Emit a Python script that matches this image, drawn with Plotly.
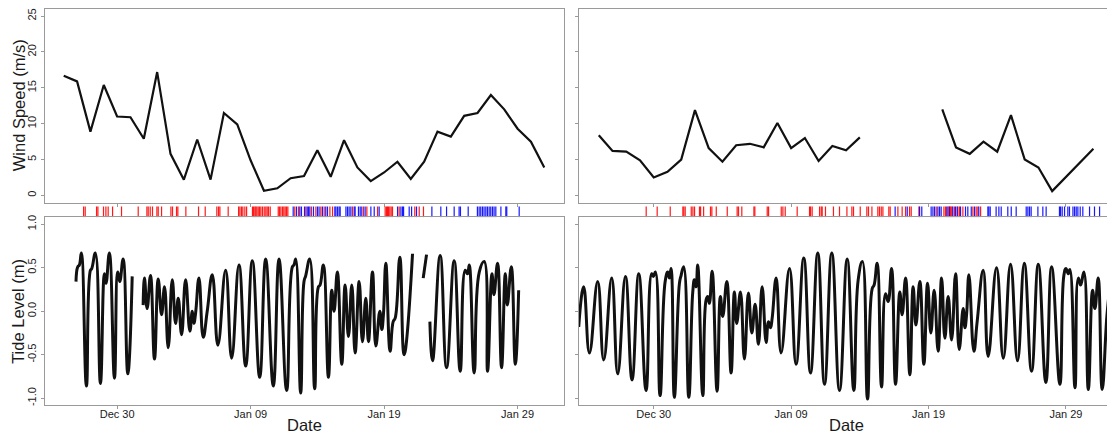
import pandas as pd
import plotly.graph_objects as go

# ---------------- data ----------------
BASE = pd.Timestamp("2012-12-30")          # day 0 (tick "Dec 30")
wind_dates = pd.date_range("2012-12-26", "2013-01-31", freq="D")

wind_left = [16.7, 15.9, 8.9, 15.4, 11.0, 10.9, 7.9, 17.2, 5.8, 2.2, 7.8, 2.2, 11.5,
             9.9, 4.9, 0.65, 1.0, 2.4, 2.7, 6.3, 2.6, 7.7, 3.9, 2.0, 3.2, 4.7, 2.3,
             4.7, 8.9, 8.2, 11.1, 11.5, 14.0, 12.0, 9.3, 7.5, 3.9]
wind_right = [8.4, 6.2, 6.1, 4.9, 2.5, 3.3, 5.0, 11.9, 6.6, 4.7, 7.0, 7.2, 6.7, 10.1,
              6.6, 8.0, 4.8, 6.9, 6.3, 8.1, None, None, None, None, None,
              12.0, 6.7, 5.8, 7.5, 6.1, 11.2, 5.0, 3.9, 0.6, 2.6, 4.6, 6.5]

# tide level turning points (days after Dec 30, metres); None = gap in record
tide_left_days = [-3.08, -2.95, -2.83, -2.68, -2.30, -2.00, -1.90, -1.63, -1.25, -0.95,
                  -0.83, -0.58, -0.20, 0.05, 0.20, 0.45, 0.80, 1.13, None,
                  1.95, 2.05, 2.25, 2.50, 2.80, 3.08, 3.33, 3.55, 3.83, 4.13, 4.38, 4.58,
                  4.83, 5.13, 5.45, 5.63, 5.75, 5.88, 6.13, 6.45, 6.75, 7.13, 7.55, 8.13,
                  8.58, 9.13, 9.63, 10.13, 10.68, 11.13, 11.70, 12.13, 12.70, 13.13,
                  13.25, 13.38, 13.75, 14.0, 14.13, 14.43, 14.80, 15.08, 15.20, 15.45,
                  15.83, 16.08, 16.25, 16.50, 16.83, 17.08, 17.33, 17.58, 17.83, 18.13,
                  18.38, 18.63, 18.83, 19.13, 19.38, 19.68, 19.83, 19.95, 20.13, 20.45,
                  20.68, 20.83, 21.18, 21.50, 22.13, None,
                  22.93, 23.18, None,
                  23.43, 23.63, 24.20, 24.68, 25.25, 25.70, 26.08, 26.25, 26.38, 26.75,
                  27.13, 27.50, 27.75, 28.08, 28.23, 28.50, 28.80, 29.08, 29.23, 29.53,
                  29.83, 30.08]
tide_left_level = [0.34, 0.51, 0.53, 0.67, -0.86, 0.47, 0.49, 0.67, -0.83, 0.43,
                   0.32, 0.67, -0.77, 0.45, 0.34, 0.60, -0.72, 0.40, None,
                   0.07, 0.38, 0.03, 0.41, -0.55, 0.37, -0.04, 0.28, -0.42, 0.36, -0.14, 0.15,
                   -0.27, 0.36, -0.23, 0.00, -0.14, -0.02, 0.38, -0.30, 0.00, 0.42, -0.39, 0.47,
                   -0.54, 0.53, -0.63, 0.58, -0.76, 0.60, -0.86, 0.60, -0.91, 0.51,
                   0.53, 0.60, -0.94, 0.34, 0.41, 0.60, -0.89, 0.28, 0.30, 0.53,
                   -0.76, 0.24, 0.00, 0.45, -0.61, 0.30, -0.29, 0.30, -0.48, 0.34,
                   -0.35, 0.15, -0.35, 0.45, -0.40, 0.00, -0.21, -0.04, 0.55, -0.46,
                   -0.12, -0.08, 0.62, -0.50, 0.66, None,
                   0.38, 0.65, None,
                   -0.12, -0.57, 0.64, -0.65, 0.58, -0.69, 0.47, 0.43, 0.53, -0.71,
                   0.45, 0.57, -0.69, 0.43, 0.19, 0.55, -0.65, 0.43, 0.07, 0.51,
                   -0.61, 0.24]

tide_right_days = [-5.46, -5.10, -4.68, -4.08, -3.64, -3.06, -2.62, -2.06, -1.58, -1.09,
                   -0.56, -0.15, -0.03, 0.12, 0.46, 0.83, 1.02, 1.14, 1.26, 1.50, 1.87,
                   1.99, 2.18, 2.55, 2.84, 2.96, 3.08, 3.20, 3.57, 3.81, 3.93, 4.05, 4.25,
                   4.61, 4.85, 5.02, 5.32, 5.63, 5.87, 6.04, 6.31, 6.60, 6.89, 7.14, 7.38,
                   7.62, 7.89, 8.18, 8.35, 8.50, 8.62, 8.91, 9.27, 9.88, 10.36, 10.92,
                   11.41, 11.94, 12.43, 12.96, 13.52, 14.08, 14.56, 14.88, 15.19, 15.56,
                   15.90, 16.04, 16.26, 16.58, 16.87, 17.06, 17.31, 17.60, 17.91, 18.08,
                   18.33, 18.64, 18.88, 19.08, 19.37, 19.66, 19.93, 20.17, 20.41, 20.70,
                   20.95, 21.19, 21.43, 21.68, 21.97, 22.23, 22.52, 22.65, 22.77, 22.94,
                   23.30, 23.54, 23.98, 24.34, 24.95, 25.44, 25.97, 26.48, 26.97, 27.50,
                   27.99, 28.54, 28.96, 29.56, 29.85, 30.00, 30.17, 30.29, 30.66, 30.90,
                   31.07, 31.31, 31.63, 31.94, 32.11, 32.35, 32.64, 32.99, 33.25]
tide_right_level = [-0.18, 0.28, -0.48, 0.34, -0.56, 0.38, -0.72, 0.40, -0.79, 0.43,
                    -0.91, 0.43, 0.40, 0.45, -0.97, 0.34, 0.45, 0.38, 0.49, -0.99, 0.32,
                    0.41, 0.51, -0.99, 0.22, 0.36, 0.28, 0.53, -0.97, 0.13, 0.17, 0.09, 0.46,
                    -0.92, 0.17, -0.06, 0.34, -0.71, 0.22, -0.14, 0.22, -0.55, 0.21, -0.25, 0.08,
                    -0.38, 0.28, -0.36, -0.12, -0.19, -0.08, 0.38, -0.48, 0.49, -0.61, 0.61,
                    -0.71, 0.67, -0.84, 0.67, -0.91, 0.60, -0.91, 0.36, 0.57, -1.01,
                    0.26, 0.30, 0.55, -0.87, 0.20, 0.11, 0.49, -0.84, 0.22, -0.04,
                    0.38, -0.73, 0.28, -0.16, 0.34, -0.61, 0.32, -0.25, 0.24, -0.46,
                    0.38, -0.31, 0.17, -0.33, 0.43, -0.44, 0.03, -0.19, -0.04, 0.42,
                    -0.46, -0.12, 0.47, -0.52, 0.50, -0.54, 0.54, -0.57, 0.55, -0.69,
                    0.54, -0.82, 0.51, -0.84, 0.41, 0.49, 0.43, 0.48, -0.88, 0.38,
                    0.30, 0.45, -0.90, 0.24, 0.03, 0.38, -0.90, -0.04, 0.35]

# rug event times (days after Dec 30)
rug_left_red = [-2.51, -2.39, -1.54, -1.44, -1.02, -0.84, -0.67, -0.34, 0.33, 1.58, 2.23,
                2.33, 2.48, 2.65, 2.98, 3.08, 3.33, 4.03, 4.15, 4.45, 4.55, 5.15, 6.10,
                6.60, 7.47, 7.60, 7.70, 8.32, 9.10, 9.20, 9.32, 9.42, 9.57, 9.70, 10.14,
                10.22, 10.32, 10.39, 10.47, 10.57, 10.67, 10.77, 10.89, 11.02, 11.14,
                11.24, 11.34, 11.47, 12.07, 12.17, 12.27, 12.39, 12.49, 12.59, 12.69,
                12.79, 13.31, 13.59, 14.14, 14.56, 14.89, 15.26, 15.51, 15.94, 16.14,
                17.63, 18.46, 18.71, 19.51, 20.08, 20.18, 20.26, 20.33, 20.43, 20.53,
                20.63, 21.13, 22.30, 22.63, 22.95]
rug_left_blue = [13.19, 13.44, 13.69, 13.81, 14.04, 14.24, 14.34, 14.44, 14.71, 15.01,
                 15.13, 15.38, 15.63, 15.76, 16.31, 16.39, 16.51, 16.63, 16.71, 17.14,
                 17.26, 17.38, 17.51, 17.76, 17.83, 18.08, 18.21, 18.33, 18.58, 19.01,
                 19.26, 19.63, 21.01, 21.26, 21.38, 21.46, 21.88, 22.06, 22.43, 23.58,
                 24.25, 24.68, 25.25, 25.62, 25.72, 26.30, 26.99, 27.12, 27.24, 27.37,
                 27.49, 27.62, 27.74, 27.87, 27.99, 28.12, 28.24, 28.37, 28.75, 29.12,
                 29.19, 30.12]
rug_right_red = [-0.55, 0.25, 1.20, 2.12, 2.19, 2.29, 2.73, 2.85, 2.97, 3.33, 3.41, 3.63,
                 4.13, 4.23, 4.55, 5.35, 6.07, 6.17, 6.41, 7.29, 7.36, 8.26, 8.36, 9.28,
                 9.40, 9.57, 10.44, 11.34, 11.41, 11.53, 12.07, 12.19, 12.26, 12.50, 13.08,
                 13.52, 14.06, 14.42, 14.54, 15.03, 15.51, 15.63, 15.88, 16.31, 16.43,
                 16.56, 16.68, 17.11, 17.21, 17.77, 18.08, 18.33, 18.62, 18.74, 19.30,
                 20.56, 21.12, 21.24, 21.41, 21.48, 21.58, 21.65, 21.72, 21.89, 22.14,
                 22.26, 22.50, 23.23, 23.47, 23.59, 23.79]
rug_right_blue = [17.57, 18.45, 19.35, 19.51, 20.19, 20.32, 20.44, 20.68, 20.80, 20.92,
                  21.33, 21.53, 21.77, 21.97, 22.09, 22.33, 22.69, 22.86, 23.11, 23.35,
                  23.66, 24.32, 24.39, 24.49, 24.92, 25.12, 25.29, 25.77, 26.02, 26.38,
                  27.11, 27.23, 27.35, 27.47, 27.96, 28.32, 28.56, 29.53, 29.61, 29.73,
                  29.90, 30.14, 30.26, 30.51, 30.63, 30.75, 30.87, 31.04, 31.23, 31.72,
                  32.08, 32.45]

tick_days = [0, 10, 20, 30]
tick_labels = ["Dec 30", "Jan 09", "Jan 19", "Jan 29"]
wind_ticks = [0, 5, 10, 15, 20, 25]
tide_ticks = [-1.0, -0.5, 0.0, 0.5, 1.0]
tide_tick_labels = ["-1.0", "-0.5", "0.0", "0.5", "1.0"]


def to_dates(days):
    return [None if d is None else (BASE + pd.Timedelta(days=d)).isoformat() for d in days]


W, H = 1107, 434
FONT = "Liberation Sans, Arial, sans-serif"
BOXC = "#9a9a9a"
TXT = "#1a1a1a"

def px_x(a, b):
    return [a / W, b / W]

def px_y(top, bottom):
    return [(H - bottom) / H, (H - top) / H]

fig = go.Figure()

# wind
fig.add_trace(go.Scatter(x=list(wind_dates), y=wind_left, mode="lines",
                         line=dict(color="#111111", width=2.2), xaxis="x", yaxis="y",
                         connectgaps=False, showlegend=False))
fig.add_trace(go.Scatter(x=list(wind_dates), y=wind_right, mode="lines",
                         line=dict(color="#111111", width=2.2), xaxis="x4", yaxis="y4",
                         connectgaps=False, showlegend=False))
# tide
fig.add_trace(go.Scatter(x=to_dates(tide_left_days), y=tide_left_level, mode="lines",
                         line=dict(color="#111111", width=3.0, shape="spline", smoothing=1.3),
                         xaxis="x3", yaxis="y3", connectgaps=False, showlegend=False))
fig.add_trace(go.Scatter(x=to_dates(tide_right_days), y=tide_right_level, mode="lines",
                         line=dict(color="#111111", width=3.0, shape="spline", smoothing=1.3),
                         xaxis="x6", yaxis="y6", connectgaps=False, showlegend=False))

# rugs
def rug(days, color, xa, ya):
    return go.Scatter(x=to_dates(days), y=[0.5] * len(days), mode="markers",
                      marker=dict(symbol="line-ns", size=10,
                                  line=dict(color=color, width=1.2)),
                      xaxis=xa, yaxis=ya, showlegend=False, hoverinfo="x")

fig.add_trace(rug(rug_left_red, "rgba(255,0,0,0.9)", "x2", "y2"))
fig.add_trace(rug(rug_left_blue, "rgba(0,0,255,0.9)", "x2", "y2"))
fig.add_trace(rug(rug_right_red, "rgba(255,0,0,0.9)", "x5", "y5"))
fig.add_trace(rug(rug_right_blue, "rgba(0,0,255,0.9)", "x5", "y5"))

left_range = to_dates([-5.44, 33.44])
right_range = to_dates([-5.44, 32.99])
tickvals = to_dates(tick_days)

xcommon = dict(type="date", showgrid=False, zeroline=False, showline=True,
               linecolor=BOXC, linewidth=1, ticks="outside", ticklen=3,
               tickcolor=BOXC, tickvals=tickvals, ticktext=tick_labels,
               ticklabelstandoff=-4,
               tickfont=dict(family=FONT, size=11, color=TXT))
ycommon = dict(showgrid=False, zeroline=False, showline=True, linecolor=BOXC,
               linewidth=1, ticks="outside", ticklen=3, tickcolor=BOXC,
               tickangle=-90, tickfont=dict(family=FONT, size=11, color=TXT))

LX = px_x(44.5, 563.5)
RX = px_x(579, 1107)
TOPY = px_y(7, 202)
RUGY = px_y(206, 217)
BOTY = px_y(216.7, 406)

fig.update_layout(
    width=W, height=H, autosize=False,
    margin=dict(l=0, r=0, t=0, b=0),
    paper_bgcolor="white", plot_bgcolor="white",
    xaxis=dict(xcommon, domain=LX, range=left_range, showticklabels=False, mirror=True,
               anchor="y"),
    yaxis=dict(ycommon, domain=TOPY, range=[-1, 26], tickvals=wind_ticks, mirror=True,
               anchor="x"),
    xaxis2=dict(domain=LX, range=left_range, type="date", visible=False, anchor="y2"),
    yaxis2=dict(domain=RUGY, range=[0, 1], visible=False, anchor="x2"),
    xaxis3=dict(xcommon, domain=LX, range=left_range, mirror=True, anchor="y3"),
    yaxis3=dict(ycommon, domain=BOTY, range=[-1.08, 1.08], tickvals=tide_ticks,
                ticktext=tide_tick_labels, mirror=True, anchor="x3"),
    xaxis4=dict(xcommon, domain=RX, range=right_range, showticklabels=False, mirror=True,
                anchor="y4"),
    yaxis4=dict(ycommon, domain=TOPY, range=[-1, 26], tickvals=wind_ticks,
                showticklabels=False, anchor="x4"),
    xaxis5=dict(domain=RX, range=right_range, type="date", visible=False, anchor="y5"),
    yaxis5=dict(domain=RUGY, range=[0, 1], visible=False, anchor="x5"),
    xaxis6=dict(xcommon, domain=RX, range=right_range, mirror=True, anchor="y6"),
    yaxis6=dict(ycommon, domain=BOTY, range=[-1.08, 1.08], tickvals=tide_ticks,
                showticklabels=False, anchor="x6"),
)

ann_font = dict(family=FONT, size=16.5, color=TXT)
fig.add_annotation(text="Wind Speed (m/s)", x=18.5 / W, y=(H - 104.5) / H, xref="paper",
                   yref="paper", textangle=-90, showarrow=False, font=ann_font,
                   xanchor="center", yanchor="middle")
fig.add_annotation(text="Tide Level (m)", x=18.5 / W, y=(H - 311.5) / H, xref="paper",
                   yref="paper", textangle=-90, showarrow=False, font=ann_font,
                   xanchor="center", yanchor="middle")
fig.add_annotation(text="Date", x=304 / W, y=(H - 426) / H, xref="paper", yref="paper",
                   showarrow=False, font=ann_font, xanchor="center", yanchor="middle")
fig.add_annotation(text="Date", x=846 / W, y=(H - 426) / H, xref="paper", yref="paper",
                   showarrow=False, font=ann_font, xanchor="center", yanchor="middle")

fig.write_html("out.html",
               config={"displayModeBar": False},
               post_script="document.body.style.margin='0px';"
                           "document.body.style.overflow='hidden';")
